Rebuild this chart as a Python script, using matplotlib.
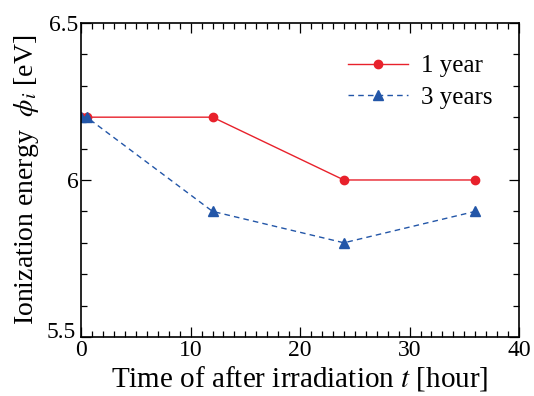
import matplotlib
matplotlib.use("Agg")
import matplotlib.pyplot as plt
import matplotlib.transforms as mtransforms
from matplotlib.ticker import MultipleLocator

t_hours = [0, 0.5, 12, 24, 36]
phi_1year = [6.2, 6.2, 6.2, 6.0, 6.0]
phi_3years = [6.2, 6.2, 5.9, 5.8, 5.9]

plt.rcParams['font.family'] = ['Liberation Serif', 'DejaVu Serif']
plt.rcParams['mathtext.fontset'] = 'stix'

fig = plt.figure(figsize=(5.34, 3.96), dpi=100)
ax = fig.add_axes([0.152, 0.149, 0.820, 0.793])

ax.plot(t_hours, phi_1year, color='#e8212b', lw=1.0, marker='o', ms=6, label='1 year')
ax.plot(t_hours, phi_3years, color='#2356a8', lw=1.0, ls=(0, (4, 3)), marker='^', ms=7,
        label='3 years')

ax.set_xlim(0, 40)
ax.set_ylim(5.5, 6.5)
ax.xaxis.set_major_locator(MultipleLocator(10))
ax.xaxis.set_minor_locator(MultipleLocator(1))
ax.yaxis.set_minor_locator(MultipleLocator(0.1))
ax.set_yticks([5.5, 6, 6.5])
ax.set_yticklabels(['5.5', '6', '6.5'])
ax.tick_params(which='both', direction='in', top=True, right=True, labelsize=17, width=0.9)
ax.tick_params(which='major', length=7, pad=2)
ax.tick_params(which='minor', length=4)
for s in ax.spines.values():
    s.set_linewidth(1.2)

# nudge the corner labels apart a little, as in the original
lbl = ax.get_yticklabels()[0]
lbl.set_transform(lbl.get_transform() + mtransforms.ScaledTranslation(-2 / 72, 5 / 72, fig.dpi_scale_trans))

ax.set_xlabel('Time of after irradiation $t$ [hour]', fontsize=21, labelpad=2)
ax.set_ylabel('Ionization energy  $\\phi_i$ [eV]', fontsize=20, labelpad=4)

ax.legend(loc='upper right', frameon=False, fontsize=18, handlelength=2.4,
          bbox_to_anchor=(0.99, 0.97), labelspacing=0.35, handletextpad=0.5)

fig.savefig('out.png', dpi=100)
